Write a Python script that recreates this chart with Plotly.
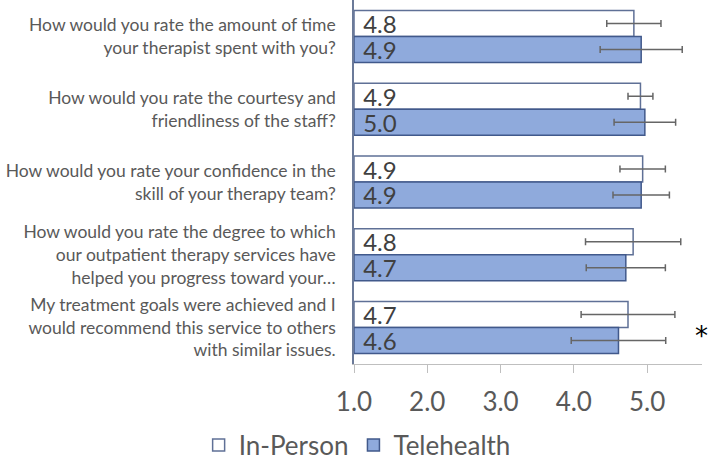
import plotly.graph_objects as go

categories = [
    "How would you rate the amount of time<br>your therapist spent with you?",
    "How would you rate the courtesy and<br>friendliness of the staff?",
    "How would you rate your confidence in the<br>skill of your therapy team?",
    "How would you rate the degree to which<br>our outpatient therapy services have<br>helped you progress toward your…",
    "My treatment goals were achieved and I<br>would recommend this service to others<br>with similar issues.",
]
in_person = [4.82, 4.91, 4.94, 4.81, 4.74]
in_person_err = [0.37, 0.17, 0.31, 0.65, 0.64]
telehealth = [4.92, 4.97, 4.92, 4.71, 4.61]
telehealth_err = [0.56, 0.42, 0.385, 0.54, 0.645]
axis_base = 1.0
tick_vals = [1, 2, 3, 4, 5]
tick_text = ["1.0", "2.0", "3.0", "4.0", "5.0"]

FONT = "Lato"
GRAY = "#595959"
PAD = "\u00a0"

fig = go.Figure()
fig.add_trace(go.Bar(
    name="In-Person", orientation="h", y=categories,
    x=[v - axis_base for v in in_person], base=axis_base,
    text=[f"{v:.1f}" for v in in_person], texttemplate=PAD + "%{text}",
    textposition="inside", insidetextanchor="start", constraintext="none",
    textfont=dict(family=FONT, size=24, color="#404040"),
    marker=dict(color="#FFFFFF", line=dict(color="#5F7096", width=1.5)),
    error_x=dict(type="data", array=in_person_err, color="#666666", thickness=1.5, width=3.5),
))
fig.add_trace(go.Bar(
    name="Telehealth", orientation="h", y=categories,
    x=[v - axis_base for v in telehealth], base=axis_base,
    text=[f"{v:.1f}" for v in telehealth], texttemplate=PAD + "%{text}",
    textposition="inside", insidetextanchor="start", constraintext="none",
    textfont=dict(family=FONT, size=24, color="#404040"),
    marker=dict(color="#8FAADC", line=dict(color="#41598B", width=1.5)),
    error_x=dict(type="data", array=telehealth_err, color="#666666", thickness=1.5, width=3.5),
))

fig.add_annotation(
    x=1, y=categories[4], xref="paper", yref="y", text="*", showarrow=False,
    font=dict(family="DejaVu Sans", size=26, color="#000000"),
    yshift=-8, xshift=-1, xanchor="center", yanchor="middle",
)

fig.update_layout(
    width=708, height=459,
    margin=dict(l=354, r=6, t=0, b=95, autoexpand=False),
    paper_bgcolor="white", plot_bgcolor="white",
    barmode="group", bargap=0.286, bargroupgap=0,
    showlegend=True,
    legend=dict(orientation="h", xref="paper", yref="paper",
                x=0.009, xanchor="center", y=-0.223, yanchor="middle",
                font=dict(family=FONT, size=26, color=GRAY), itemwidth=30,
                traceorder="normal"),
    xaxis=dict(range=[1, 5.75], tickvals=tick_vals, ticktext=tick_text, automargin=False,
               showgrid=False, zeroline=False, showline=True, linecolor="#BFBFBF", linewidth=1,
               ticks="outside", ticklen=8, tickcolor="#BFBFBF", ticklabelstandoff=7,
               tickfont=dict(family=FONT, size=26, color=GRAY)),
    yaxis=dict(range=[4.5, -0.5], autorange=False, showgrid=False, zeroline=False, automargin=False,
               showline=True, linecolor="#6B7A99", linewidth=1.5,
               ticks="", ticklabelstandoff=13,
               tickfont=dict(family=FONT, size=17.5, color=GRAY)),
)

fig.write_html(
    "out.html",
    config={"displayModeBar": False},
    post_script="document.body.style.margin='0';document.documentElement.style.overflow='hidden';",
)
